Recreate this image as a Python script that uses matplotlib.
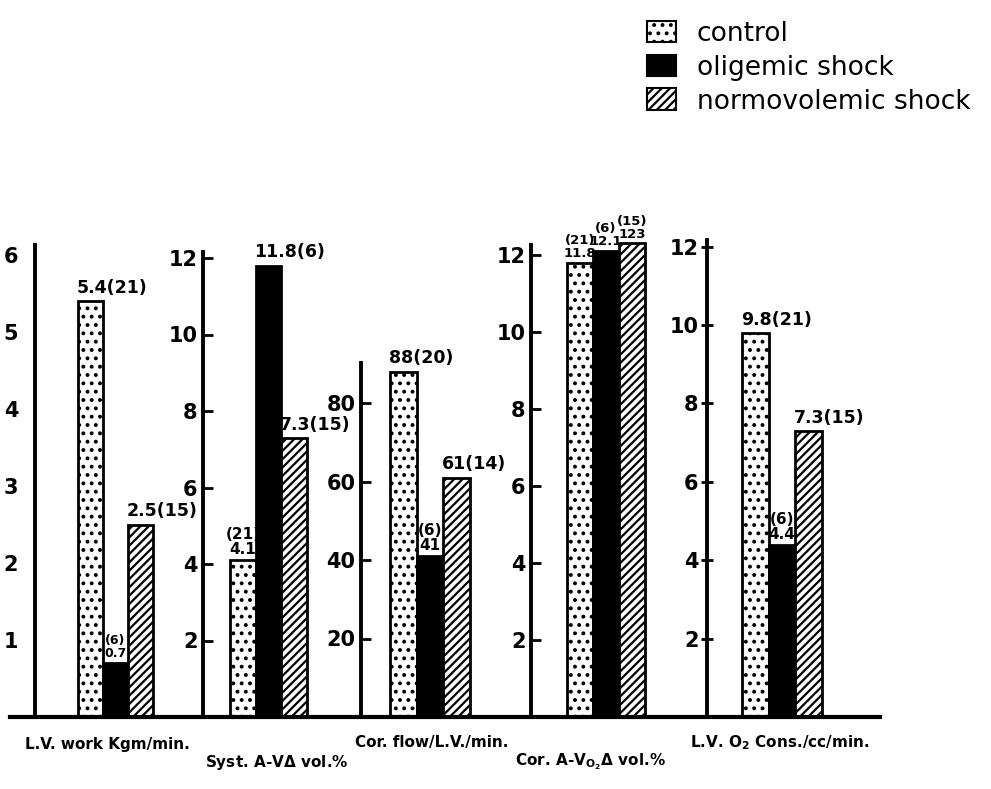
import numpy as np
import matplotlib
matplotlib.use('Agg')
from matplotlib import pyplot as plt
from matplotlib.patches import Patch
from matplotlib.lines import Line2D

groups = ['control', 'oligemic shock', 'normovolemic shock']

panel_titles = ['L.V. work Kgm/min.',
                'Syst. A-V$\\Delta$ vol.%',
                'Cor. flow/L.V./min.',
                'Cor. A-V$_{\\mathrm{O_2}}$$\\Delta$ vol.%',
                'L.V. O$_2$ Cons./cc/min.']

lv_work = [5.4, 0.7, 2.5]
syst_av = [4.1, 11.8, 7.3]
cor_flow = [88, 41, 61]
cor_av = [11.8, 12.1, 12.3]
lv_o2 = [9.8, 4.4, 7.3]

lv_work_labels = ['5.4(21)', '(6)\n0.7', '2.5(15)']
syst_av_labels = ['(21)\n4.1', '11.8(6)', '7.3(15)']
cor_flow_labels = ['88(20)', '(6)\n41', '61(14)']
cor_av_labels = ['(21)\n11.8', '(6)\n12.1', '(15)\n123']
lv_o2_labels = ['9.8(21)', '(6)\n4.4', '7.3(15)']

lv_work_ticks = [1, 2, 3, 4, 5, 6]
syst_av_ticks = [2, 4, 6, 8, 10, 12]
cor_flow_ticks = [20, 40, 60, 80]
cor_av_ticks = [2, 4, 6, 8, 10, 12]
lv_o2_ticks = [2, 4, 6, 8, 10, 12]

values = [lv_work, syst_av, cor_flow, cor_av, lv_o2]
labels = [lv_work_labels, syst_av_labels, cor_flow_labels, cor_av_labels, lv_o2_labels]
ticks = [lv_work_ticks, syst_av_ticks, cor_flow_ticks, cor_av_ticks, lv_o2_ticks]

# layout in pixels: spine x, first bar left, bar width, spine top, px per unit
geom = [(35, 78, 25.0, 245, 77.0),
        (203, 230, 25.5, 252, 38.25),
        (361, 390, 26.7, 363, 3.925),
        (531, 567, 26.0, 245, 38.5),
        (707, 742, 26.7, 240, 39.2)]
title_pos = [(25, 745), (205, 762), (355, 743), (515, 762), (690, 743)]
stack_size = [9, 11, 11, 9.5, 11]

W, H = 991, 789
base_y = 717
plot_top = 150

plt.rcParams['font.family'] = 'DejaVu Sans'
plt.rcParams['font.weight'] = 'bold'
plt.rcParams['hatch.linewidth'] = 1.6
plt.rcParams['mathtext.fontset'] = 'dejavusans'

fig = plt.figure(figsize=(W / 100, H / 100), dpi=100)

styles = [dict(facecolor='white', hatch='..'),
          dict(facecolor='black', hatch=None),
          dict(facecolor='white', hatch='////')]

for i, (vals, labs, tks) in enumerate(zip(values, labels, ticks)):
    spine, b0, bw, top, ppu = geom[i]
    right = b0 + 3 * bw + 12
    ax = fig.add_axes([spine / W, (H - base_y) / H, (right - spine) / W, (base_y - plot_top) / H])
    ax.patch.set_alpha(0)
    x = np.arange(3)
    for j in range(3):
        ax.bar(x[j], vals[j], width=1.0, edgecolor='black', linewidth=2, **styles[j])
    ax.set_xlim(-0.5 - (b0 - spine) / bw, 2.5 + 12 / bw)
    ax.set_ylim(0, (base_y - plot_top) / ppu)
    for s in ['top', 'right', 'bottom']:
        ax.spines[s].set_visible(False)
    ax.spines['left'].set_linewidth(2.8)
    ax.spines['left'].set_bounds(0, (base_y - top) / ppu)
    ax.set_xticks([])
    ax.set_yticks(tks)
    ax.set_yticklabels([str(t) for t in tks], fontsize=15, fontweight='bold')
    if i == 0:
        ax.tick_params(axis='y', length=0, pad=12)
    elif i == 4:
        ax.tick_params(axis='y', direction='inout', length=8, width=2, pad=2)
    else:
        ax.tick_params(axis='y', direction='in', length=7, width=2, pad=4)
    for j in range(3):
        txt = labs[j]
        if '\n' in txt:
            ax.annotate(txt, (x[j], vals[j]), xytext=(0, 2), textcoords='offset points',
                        ha='center', va='bottom', fontsize=stack_size[i], fontweight='bold',
                        linespacing=1.0, zorder=5, annotation_clip=False)
        else:
            ax.annotate(txt, (x[j] - 0.55, vals[j]), xytext=(0, 3), textcoords='offset points',
                        ha='left', va='bottom', fontsize=12.5, fontweight='bold',
                        zorder=5, annotation_clip=False)
    tx, ty = title_pos[i]
    fig.text(tx / W, 1 - ty / H, panel_titles[i], fontsize=11, fontweight='bold',
             ha='left', va='center')

fig.add_artist(Line2D([10 / W, 880 / W], [(H - base_y) / H] * 2, color='black', lw=3))

handles = [Patch(edgecolor='black', linewidth=1.5, **s) for s in styles]
fig.legend(handles, groups, loc='upper left', bbox_to_anchor=(636 / W, 1 - 10 / H),
           frameon=False, prop=dict(size=19, weight='normal'),
           handlelength=1.1, handleheight=0.9,
           handletextpad=0.8, labelspacing=0.3, borderaxespad=0)

plt.savefig('out.png', dpi=100)
